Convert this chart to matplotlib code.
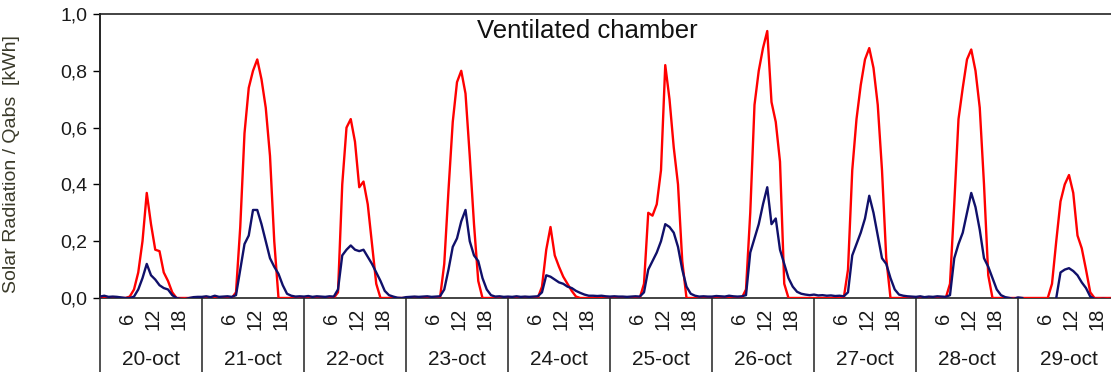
import numpy as np
import matplotlib
matplotlib.use("Agg")
import matplotlib.pyplot as plt
import matplotlib.transforms as mtransforms

plt.rcParams['font.family'] = ['Liberation Sans', 'DejaVu Sans']

# hourly values, one row of 24 per day (20-oct .. 29-oct)
days = ['20-oct', '21-oct', '22-oct', '23-oct', '24-oct',
        '25-oct', '26-oct', '27-oct', '28-oct', '29-oct']
hour_ticks = [6, 12, 18]
yticks = [0.0, 0.2, 0.4, 0.6, 0.8, 1.0]

solar_radiation = [
    0, 0, 0, 0, 0, 0, 0, 0.005, 0.03, 0.09, 0.2, 0.37, 0.26, 0.17, 0.165, 0.09, 0.06, 0.02, 0, 0, 0, 0, 0, 0,
    0, 0, 0, 0, 0, 0, 0, 0, 0.02, 0.25, 0.58, 0.74, 0.8, 0.84, 0.77, 0.67, 0.5, 0.2, 0, 0, 0, 0, 0, 0,
    0, 0, 0, 0, 0, 0, 0, 0, 0.02, 0.4, 0.6, 0.63, 0.55, 0.39, 0.41, 0.33, 0.19, 0.05, 0, 0, 0, 0, 0, 0,
    0, 0, 0, 0, 0, 0, 0, 0, 0, 0.12, 0.38, 0.62, 0.76, 0.8, 0.72, 0.5, 0.26, 0.06, 0, 0, 0, 0, 0, 0,
    0, 0, 0, 0, 0, 0, 0, 0, 0.04, 0.17, 0.25, 0.15, 0.11, 0.075, 0.05, 0.025, 0.005, 0, 0, 0, 0, 0, 0, 0,
    0, 0, 0, 0, 0, 0, 0, 0, 0.05, 0.3, 0.29, 0.33, 0.45, 0.82, 0.7, 0.53, 0.4, 0.13, 0, 0, 0, 0, 0, 0,
    0, 0, 0, 0, 0, 0, 0, 0, 0.03, 0.3, 0.68, 0.8, 0.88, 0.94, 0.69, 0.62, 0.48, 0.05, 0, 0, 0, 0, 0, 0,
    0, 0, 0, 0, 0, 0, 0, 0, 0.1, 0.45, 0.63, 0.75, 0.84, 0.88, 0.81, 0.68, 0.45, 0.14, 0, 0, 0, 0, 0, 0,
    0, 0, 0, 0, 0, 0, 0, 0, 0.05, 0.33, 0.63, 0.74, 0.84, 0.875, 0.8, 0.67, 0.4, 0.08, 0, 0, 0, 0, 0, 0,
    0, 0, 0, 0, 0, 0, 0, 0, 0.05, 0.2, 0.34, 0.4, 0.433, 0.37, 0.22, 0.175, 0.1, 0.02, 0, 0, 0, 0, 0, 0,
]

nan = np.nan
qabs = [
    0.005, 0.008, 0.004, 0.005, 0.004, 0.002, 0, 0, 0.005, 0.03, 0.07, 0.12, 0.08, 0.065, 0.045, 0.035, 0.03, 0.01, 0, -0.003, -0.004, 0, 0.003, 0.004,
    0.004, 0.006, 0.003, 0.008, 0.004, 0.005, 0.006, 0.004, 0.01, 0.1, 0.19, 0.22, 0.31, 0.31, 0.26, 0.2, 0.14, 0.11, 0.085, 0.045, 0.015, 0.008, 0.005, 0.006,
    0.005, 0.007, 0.004, 0.006, 0.005, 0.004, 0.006, 0.005, 0.03, 0.15, 0.17, 0.185, 0.17, 0.165, 0.17, 0.145, 0.12, 0.09, 0.06, 0.025, 0.01, 0.005, 0.001, 0.0,
    0.003, 0.004, 0.005, 0.004, 0.005, 0.006, 0.004, 0.005, 0.006, 0.03, 0.1, 0.18, 0.21, 0.27, 0.31, 0.2, 0.15, 0.13, 0.07, 0.03, 0.01, 0.005, 0.006, 0.004,
    0.005, 0.004, 0.006, 0.004, 0.005, 0.004, 0.005, 0.006, 0.02, 0.08, 0.075, 0.065, 0.055, 0.05, 0.04, 0.035, 0.025, 0.018, 0.012, 0.008, 0.008, 0.007, 0.008, 0.006,
    0.005, 0.006, 0.005, 0.005, 0.004, 0.005, 0.006, 0.005, 0.02, 0.1, 0.13, 0.16, 0.2, 0.26, 0.25, 0.23, 0.18, 0.1, 0.04, 0.015, 0.008, 0.005, 0.006, 0.005,
    0.005, 0.007, 0.006, 0.005, 0.008, 0.006, 0.005, 0.006, 0.01, 0.16, 0.21, 0.26, 0.33, 0.39, 0.26, 0.28, 0.17, 0.12, 0.07, 0.04, 0.022, 0.015, 0.012, 0.01,
    0.012, 0.009, 0.01, 0.008, 0.009, 0.007, 0.008, 0.006, 0.02, 0.15, 0.19, 0.23, 0.28, 0.36, 0.3, 0.22, 0.14, 0.12, 0.07, 0.03, 0.012, 0.008, 0.006, 0.005,
    0.004, 0.006, 0.003, 0.005, 0.004, 0.006, 0.005, 0.004, 0.01, 0.14, 0.19, 0.23, 0.3, 0.37, 0.32, 0.24, 0.14, 0.11, 0.07, 0.03, 0.01, 0.003, 0, -0.003,
    0.002, 0, nan, nan, nan, nan, nan, nan, nan, 0.0, 0.09, 0.1, 0.105, 0.095, 0.08, 0.055, 0.035, 0.005, -0.003, -0.004, -0.003, -0.004, -0.003, -0.004,
]

hours = np.arange(len(solar_radiation))

fig = plt.figure(figsize=(11.11, 3.72), dpi=100)
ax = fig.add_axes([100 / 1111, 74 / 372, 1020 / 1111, 284 / 372])

ax.plot(hours, solar_radiation, color='#ff0000', lw=1.7, zorder=3)
ax.plot(hours, qabs, color='#10106a', lw=1.7, zorder=4)

ax.set_xlim(0, 24 * len(days))
ax.set_ylim(0, 1.0)
ax.set_yticks(yticks)
ax.set_yticklabels([('%.1f' % v).replace('.', ',') for v in yticks], fontsize=14, color='#1a1a1a')
ax.tick_params(axis='y', direction='out', length=5, width=1, pad=4)
ax.set_ylabel('Solar Radiation / Qabs  [kWh]', fontsize=14, color='#3a3a2a')
ax.yaxis.set_label_coords(-0.078, 0.47)

ax.spines['right'].set_visible(False)
for s in ['left', 'top', 'bottom']:
    ax.spines[s].set_color('#222222')
    ax.spines[s].set_linewidth(1.2)

# hour ticks under each day
xt = [24 * d + h for d in range(len(days)) for h in hour_ticks]
ax.set_xticks(xt)
ax.set_xticklabels([str(h) for d in range(len(days)) for h in hour_ticks],
                   rotation=90, fontsize=14.5, color='#1a1a1a', va='center')
ax.tick_params(axis='x', length=0, pad=15)
off = mtransforms.ScaledTranslation(1.5 / 72, 0, fig.dpi_scale_trans)
for lab in ax.get_xticklabels():
    lab.set_transform(lab.get_transform() + off)

# day separators and day labels
trans = ax.get_xaxis_transform()
for d in range(len(days) + 1):
    top = 1.0 if d == 0 else 0.0
    ax.plot([24 * d, 24 * d], [top, -0.27], transform=trans, color='#333333',
            lw=1.2, clip_on=False)
for d, name in enumerate(days):
    ax.text(24 * d + 12, -0.215, name, transform=trans, ha='center', va='center',
            fontsize=15, color='#1a1a1a')

ax.text(0.478, 0.94, 'Ventilated chamber', transform=ax.transAxes, ha='center',
        va='center', fontsize=18.5, color='#111111')

fig.savefig('out.png', dpi=100)
